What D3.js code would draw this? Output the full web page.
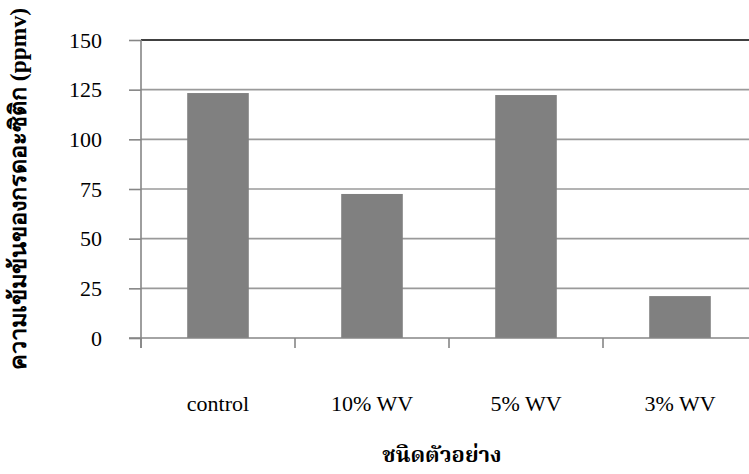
<!DOCTYPE html>
<html>
<head>
<meta charset="utf-8">
<script src="https://cdn.jsdelivr.net/npm/d3@7"></script>
<style>
  html, body { margin: 0; padding: 0; background: #fff; }
  svg { display: block; }
</style>
</head>
<body>
<svg id="chart" width="749" height="474"></svg>
<script>
// Acetic acid concentration by sample type
const categories = ["control", "10% WV", "5% WV", "3% WV"];
const values = [123.3, 72.5, 122.3, 21.1];
const yTicks = [0, 25, 50, 75, 100, 125, 150];
const yTitle = "ความเข้มข้นของกรดอะซิติก (ppmv)";
const xTitle = "ชนิดตัวอย่าง";

const svg = d3.select("#chart");
const serif = "Liberation Serif";
const thai = "Noto Serif Thai";

const plotLeft = 141, plotRight = 757, plotTop = 40, plotBottom = 338;

const x = d3.scaleBand().domain(categories).range([plotLeft, plotRight]).paddingInner(0.6).paddingOuter(0.3);
const xb = d3.scaleBand().domain(categories).range([plotLeft, plotRight]);
const y = d3.scaleLinear().domain([0, 150]).range([plotBottom, plotTop]);

// horizontal gridlines
svg.append("g").selectAll("line")
  .data(yTicks.filter(t => t > 0 && t < 150))
  .join("line")
  .attr("x1", plotLeft).attr("x2", plotRight)
  .attr("y1", d => y(d)).attr("y2", d => y(d))
  .attr("stroke", "#9a9a9a").attr("stroke-width", 1.6);

// top border of the plot
svg.append("line")
  .attr("x1", plotLeft).attr("x2", plotRight)
  .attr("y1", y(150)).attr("y2", y(150))
  .attr("stroke", "#000").attr("stroke-width", 1.6);

// bars
svg.append("g").selectAll("rect")
  .data(values)
  .join("rect")
  .attr("x", (d, i) => x(categories[i]))
  .attr("width", x.bandwidth())
  .attr("y", d => y(d))
  .attr("height", d => y(0) - y(d))
  .attr("fill", "#808080");

// y axis
const yAxis = d3.axisLeft(y).tickValues(yTicks).tickSize(12).tickPadding(27).tickFormat(d3.format("d"));
const gy = svg.append("g").attr("transform", `translate(${plotLeft},0)`).call(yAxis)
  .attr("font-family", serif).attr("font-size", 22);
gy.select(".domain").attr("stroke", "#868686").attr("stroke-width", 1.6)
  .attr("d", `M0,${plotTop}V${plotBottom + 10}`);
gy.selectAll(".tick line").attr("stroke", "#868686").attr("stroke-width", 1.6);
gy.selectAll(".tick text").attr("font-family", serif).attr("font-size", 22).attr("fill", "#000");

// x axis with ticks at category boundaries
svg.append("line")
  .attr("x1", plotLeft - 12).attr("x2", plotRight)
  .attr("y1", plotBottom).attr("y2", plotBottom)
  .attr("stroke", "#868686").attr("stroke-width", 1.6);
svg.append("g").selectAll("line")
  .data(categories)
  .join("line")
  .attr("x1", d => xb(d)).attr("x2", d => xb(d))
  .attr("y1", plotBottom).attr("y2", plotBottom + 10)
  .attr("stroke", "#868686").attr("stroke-width", 1.6);

svg.append("g").selectAll("text")
  .data(categories)
  .join("text")
  .attr("x", d => xb(d) + xb.bandwidth() / 2)
  .attr("y", 411)
  .attr("text-anchor", "middle")
  .attr("font-family", serif).attr("font-size", 22)
  .text(d => d);

// axis titles
svg.append("text")
  .attr("x", 442).attr("y", 462)
  .attr("text-anchor", "middle")
  .attr("font-family", thai).attr("font-weight", "bold").attr("font-size", 22)
  .text(xTitle);

svg.append("text")
  .attr("transform", "translate(26,189) rotate(-90)")
  .attr("text-anchor", "middle")
  .attr("font-family", serif).attr("font-weight", "bold").attr("font-size", 23.5)
  .text(yTitle);
</script>
</body>
</html>
